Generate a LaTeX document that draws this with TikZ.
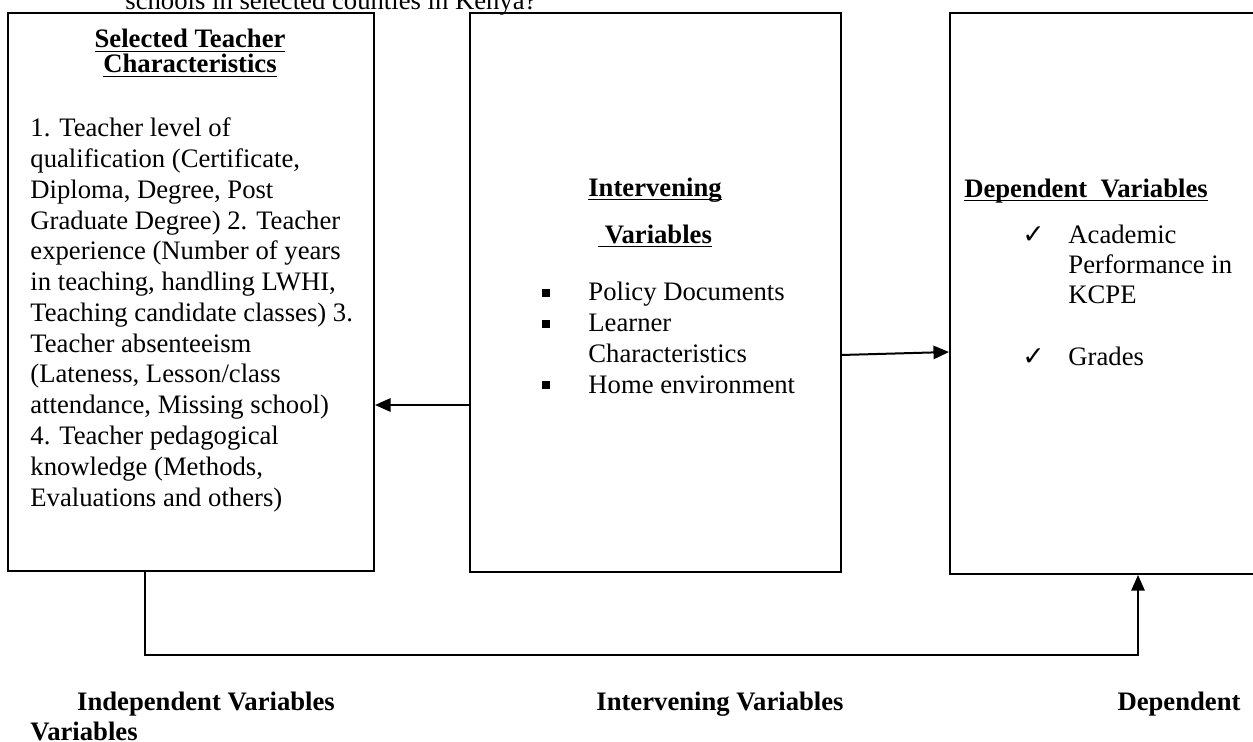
\documentclass[tikz,border=0pt]{standalone}
\usepackage{fontspec}
\setmainfont{Liberation Serif}
\newfontfamily\symfont{DejaVu Sans}
\usetikzlibrary{arrows.meta,calc}

\begin{document}
\begin{tikzpicture}[x=0.45pt,y=-0.45pt,
        boite/.style={draw,line width=0.9pt,inner sep=0pt},
        texte/.style={inner sep=0pt,align=left,font=\fontsize{12}{13.84}\selectfont},
        titre/.style={inner sep=0pt,align=center,font=\bfseries\fontsize{12}{11.25}\selectfont},
        legende/.style={inner sep=0pt,anchor=base,font=\bfseries\fontsize{12}{14}\selectfont},
        coche/.style={inner sep=0pt,anchor=base west,font=\symfont\fontsize{12}{14}\selectfont},
        fleche/.style={line width=0.9pt,-{Triangle[length=7pt,width=6pt]}},
        lien/.style={line width=0.7pt,-{Triangle[length=7pt,width=6pt]}}]
        % Définir l'unité (1 pixel)
        \def\px{0.45pt}
        % Cadre de l'image
        \useasboundingbox (0,0) rectangle (1253,742);
        \clip (0,0) rectangle (1253,742);
        % Fin de la question (coupée en haut)
        \node[texte,anchor=base west] (question) at (125,10) {schools in selected counties in Kenya?};
        % Les trois boîtes
        \node[boite,minimum width=366*\px,minimum height=558*\px] (teach) at (191,292) {};
        \node[boite,minimum width=371*\px,minimum height=559*\px] (interv) at (655.5,292.5) {};
        \node[boite,minimum width=380*\px,minimum height=561*\px] (dep) at (1140,293.5) {};
        % Boîte de gauche : variables indépendantes (ancre sur la dernière ligne)
        \node[titre,anchor=base] (teachtitle) at (190,73) {\underbar{Selected Teacher}\\\underbar{Characteristics}};
        \node[texte,anchor=base west] (teachlist) at (30,506) {1. Teacher level of\\
            qualification (Certificate,\\
            Diploma, Degree, Post\\
            Graduate Degree) 2. Teacher\\
            experience (Number of years\\
            in teaching, handling LWHI,\\
            Teaching candidate classes) 3.\\
            Teacher absenteeism\\
            (Lateness, Lesson/class\\
            attendance, Missing school)\\
            4. Teacher pedagogical\\
            knowledge (Methods,\\
            Evaluations and others)};
        % Boîte du milieu : variables intermédiaires
        \node[titre,anchor=base,font=\bfseries\fontsize{12}{21}\selectfont] (intervtitle) at (655,243) {\underbar{Intervening}\\\underbar{~Variables}};
        \node[texte,anchor=base west,font=\fontsize{12}{13.9}\selectfont] (intervlist) at (588,393) {Policy Documents\\
            Learner\\
            Characteristics\\
            Home environment};
        \fill (542,289) rectangle (550,297);
        \fill (542,320) rectangle (550,328);
        \fill (542,381) rectangle (550,389);
        % Boîte de droite : variables dépendantes
        \node[titre,anchor=base] (deptitle) at (1086,197) {\underbar{Dependent\ \ Variables}};
        \node[coche] (check1) at (1022,243) {✓};
        \node[texte,anchor=base west,font=\fontsize{12}{13.5}\selectfont] (deplist) at (1068,303) {Academic\\
            Performance in\\
            KCPE};
        \node[coche] (check2) at (1022,365) {✓};
        \node[texte,anchor=base west] (grades) at (1068,365) {Grades};
        % Flèches entre les boîtes
        \coordinate (gauche) at (470,405);
        \draw[fleche] (gauche) -- (gauche -| teach.east);
        \coordinate (droite) at (841,355);
        \draw[fleche] (droite) -- ($(droite -| dep.west)+(0,-3)$);
        % Lien du bas
        \coordinate (bas1) at (145,655);
        \coordinate (bas2) at (1138,655);
        \draw[lien] (bas1 |- teach.south) -- (bas1) -- (bas2) -- (bas2 |- dep.south);
        % Légendes du bas
        \node[legende] (indep) at (206,710) {Independent Variables};
        \node[legende,anchor=base west] (indep2) at (30,740) {Variables};
        \node[legende] (intervlab) at (720,710) {Intervening Variables};
        \node[legende] (deplab) at (1179,710) {Dependent};
    \end{tikzpicture}
\end{document}
